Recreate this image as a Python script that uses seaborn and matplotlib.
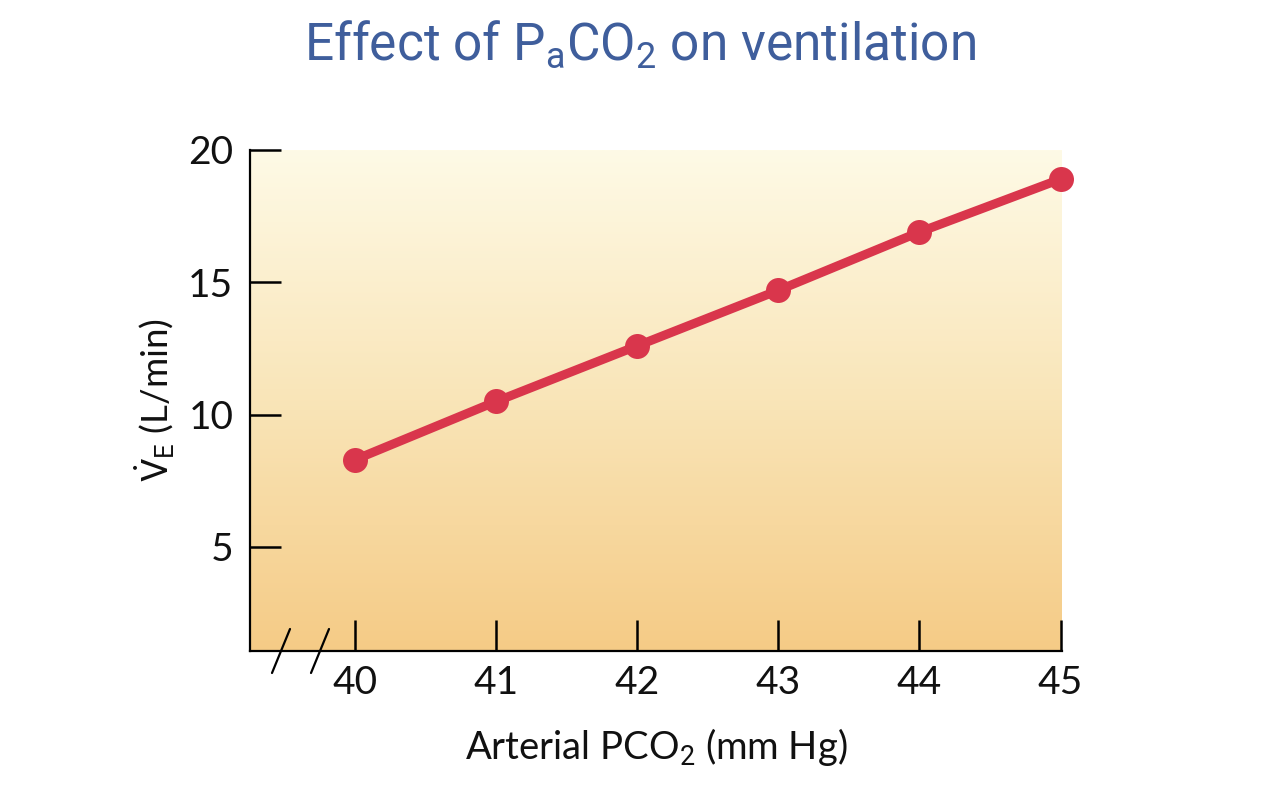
import numpy as np
import pandas as pd
import matplotlib
matplotlib.use("Agg")
import matplotlib.pyplot as plt
from matplotlib.colors import LinearSegmentedColormap
from matplotlib.lines import Line2D
import seaborn as sns

# ------------------------------------------------
# DATA
# ------------------------------------------------
paco2 = [40, 41, 42, 43, 44, 45]
ventilation = [8.3, 10.5, 12.6, 14.7, 16.9, 18.9]
x_ticks = [40, 41, 42, 43, 44, 45]
y_ticks = [5, 10, 15, 20]

df = pd.DataFrame({"paco2": paco2, "ve": ventilation})

sns.set_theme(style="white")
plt.rcParams["font.family"] = ["Lato", "DejaVu Sans"]
plt.rcParams["mathtext.fontset"] = "custom"
plt.rcParams["mathtext.rm"] = "Roboto"
plt.rcParams["mathtext.it"] = "Roboto:italic"

fig = plt.figure(figsize=(12.8, 8), dpi=100)
ax = fig.add_axes([250 / 1280, 1 - 651 / 800, 812 / 1280, 501 / 800])

# gradient background
grad = LinearSegmentedColormap.from_list("bg", ["#F5CB86", "#F9E5B8", "#FEFAE6"])
ax.imshow(np.linspace(0, 1, 256).reshape(-1, 1), cmap=grad, origin="lower",
          aspect="auto", extent=[0, 1, 0, 1], transform=ax.transAxes, zorder=0)

sns.lineplot(data=df, x="paco2", y="ve", ax=ax, color="#D9364C", linewidth=6.5,
             marker="o", markersize=18, markeredgewidth=0, zorder=3, clip_on=False)

ax.set_xlim(39.255, 45.01)
ax.set_ylim(1.07, 20)
ax.set_xticks(x_ticks)
ax.set_yticks(y_ticks)
ax.tick_params(axis="both", bottom=True, left=True, direction="in", length=22,
               width=1.8, color="black", labelsize=28, labelcolor="#111111")
ax.tick_params(axis="x", pad=10)
ax.tick_params(axis="y", pad=12)

for side in ["top", "right"]:
    ax.spines[side].set_visible(False)
for side in ["left", "bottom"]:
    ax.spines[side].set_linewidth(1.6)
    ax.spines[side].set_color("black")

ax.set_xlabel("Arterial PCO$_2$ (mm Hg)", fontsize=27.5, labelpad=18, color="#111111")
ax.set_ylabel(r"$\dot{\mathrm{V}}_\mathrm{E}$ (L/min)", fontsize=26.5, labelpad=8,
              color="#111111")

# axis break marks
for x0 in [272, 311]:
    fig.add_artist(Line2D([x0 / 1280, (x0 + 18) / 1280], [1 - 673 / 800, 1 - 629 / 800],
                          color="black", linewidth=1.6))

fig.text(0.5, 1 - 45 / 800, "Effect of P$_\\mathrm{a}$CO$_2$ on ventilation",
         ha="center", va="center", fontsize=37, color="#3F5E9C", family="Roboto")

fig.savefig("out.png", dpi=100)
